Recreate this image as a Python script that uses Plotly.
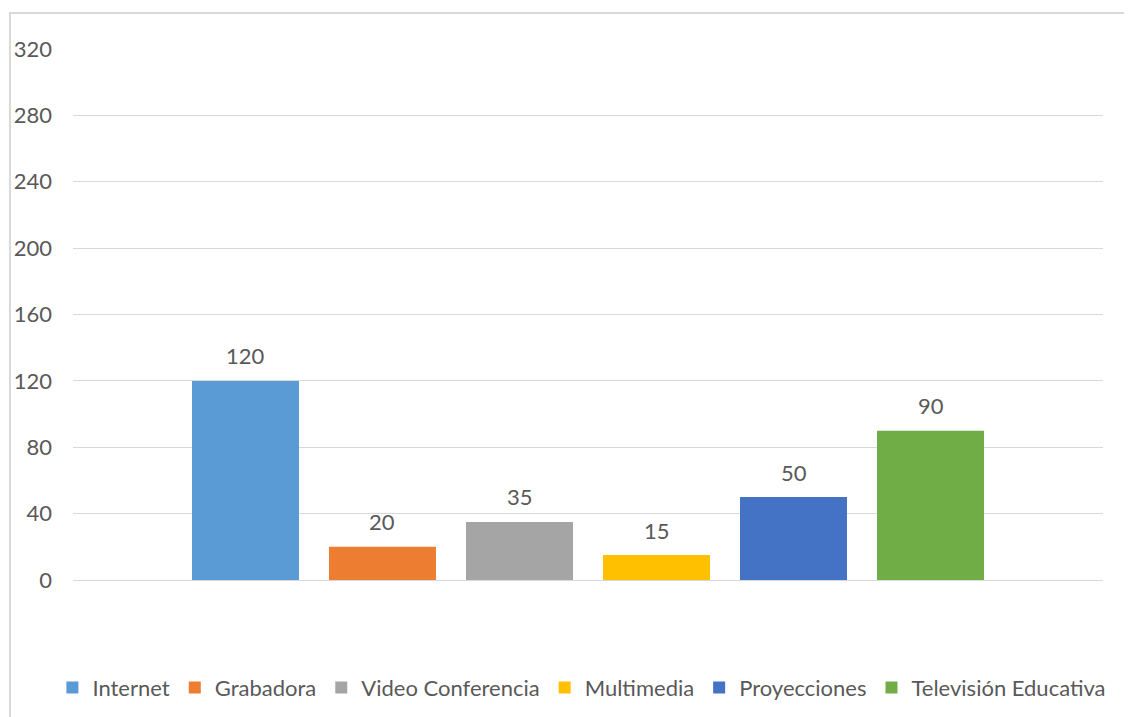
import plotly.graph_objects as go

categories = ["Internet", "Grabadora", "Video Conferencia", "Multimedia", "Proyecciones", "Televisión Educativa"]
values = [120, 20, 35, 15, 50, 90]
colors = ["#5B9BD5", "#ED7D31", "#A5A5A5", "#FFC000", "#4472C4", "#70AD47"]
y_ticks = [0, 40, 80, 120, 160, 200, 240, 280, 320]

FONT = "Lato"
TXT = "#595959"
FS = 22

fig = go.Figure()
for cat, val, col in zip(categories, values, colors):
    fig.add_trace(go.Bar(x=[cat], y=[val], name=cat, marker=dict(color=col, line=dict(width=0)),
                         hoverinfo="name+y"))
    fig.add_annotation(x=cat, y=val, text=str(val), showarrow=False, yshift=25,
                       font=dict(family=FONT, size=FS, color=TXT))

fig.update_layout(
    width=1132, height=717,
    margin=dict(l=65, r=37, t=41, b=145, autoexpand=False),
    paper_bgcolor="white", plot_bgcolor="white",
    barmode="overlay", bargap=0.219,
    font=dict(family=FONT, size=FS, color=TXT),
    xaxis=dict(type="category", range=[-1.259, 6.259], showticklabels=False, showgrid=False,
               zeroline=False, showline=False, ticks=""),
    yaxis=dict(range=[0, 320], tickvals=y_ticks, showgrid=True, gridcolor="#D9D9D9", gridwidth=1,
               zeroline=True, zerolinecolor="#D9D9D9", zerolinewidth=1, showline=False, ticks="",
               ticklabelstandoff=20, tickfont=dict(family=FONT, size=FS, color=TXT)),
    legend=dict(orientation="h", x=-0.02, xanchor="left", y=-0.203, yanchor="middle",
                font=dict(family=FONT, size=FS, color=TXT), itemclick=False, tracegroupgap=0,
                itemwidth=30),
    showlegend=True,
    shapes=[dict(type="rect", xref="paper", yref="paper", x0=-0.0612, x1=1.2, y0=-0.5, y1=1.0678,
                 line=dict(color="#D9D9D9", width=2), fillcolor="rgba(0,0,0,0)", layer="below")],
)

fig.write_html("out.html")
